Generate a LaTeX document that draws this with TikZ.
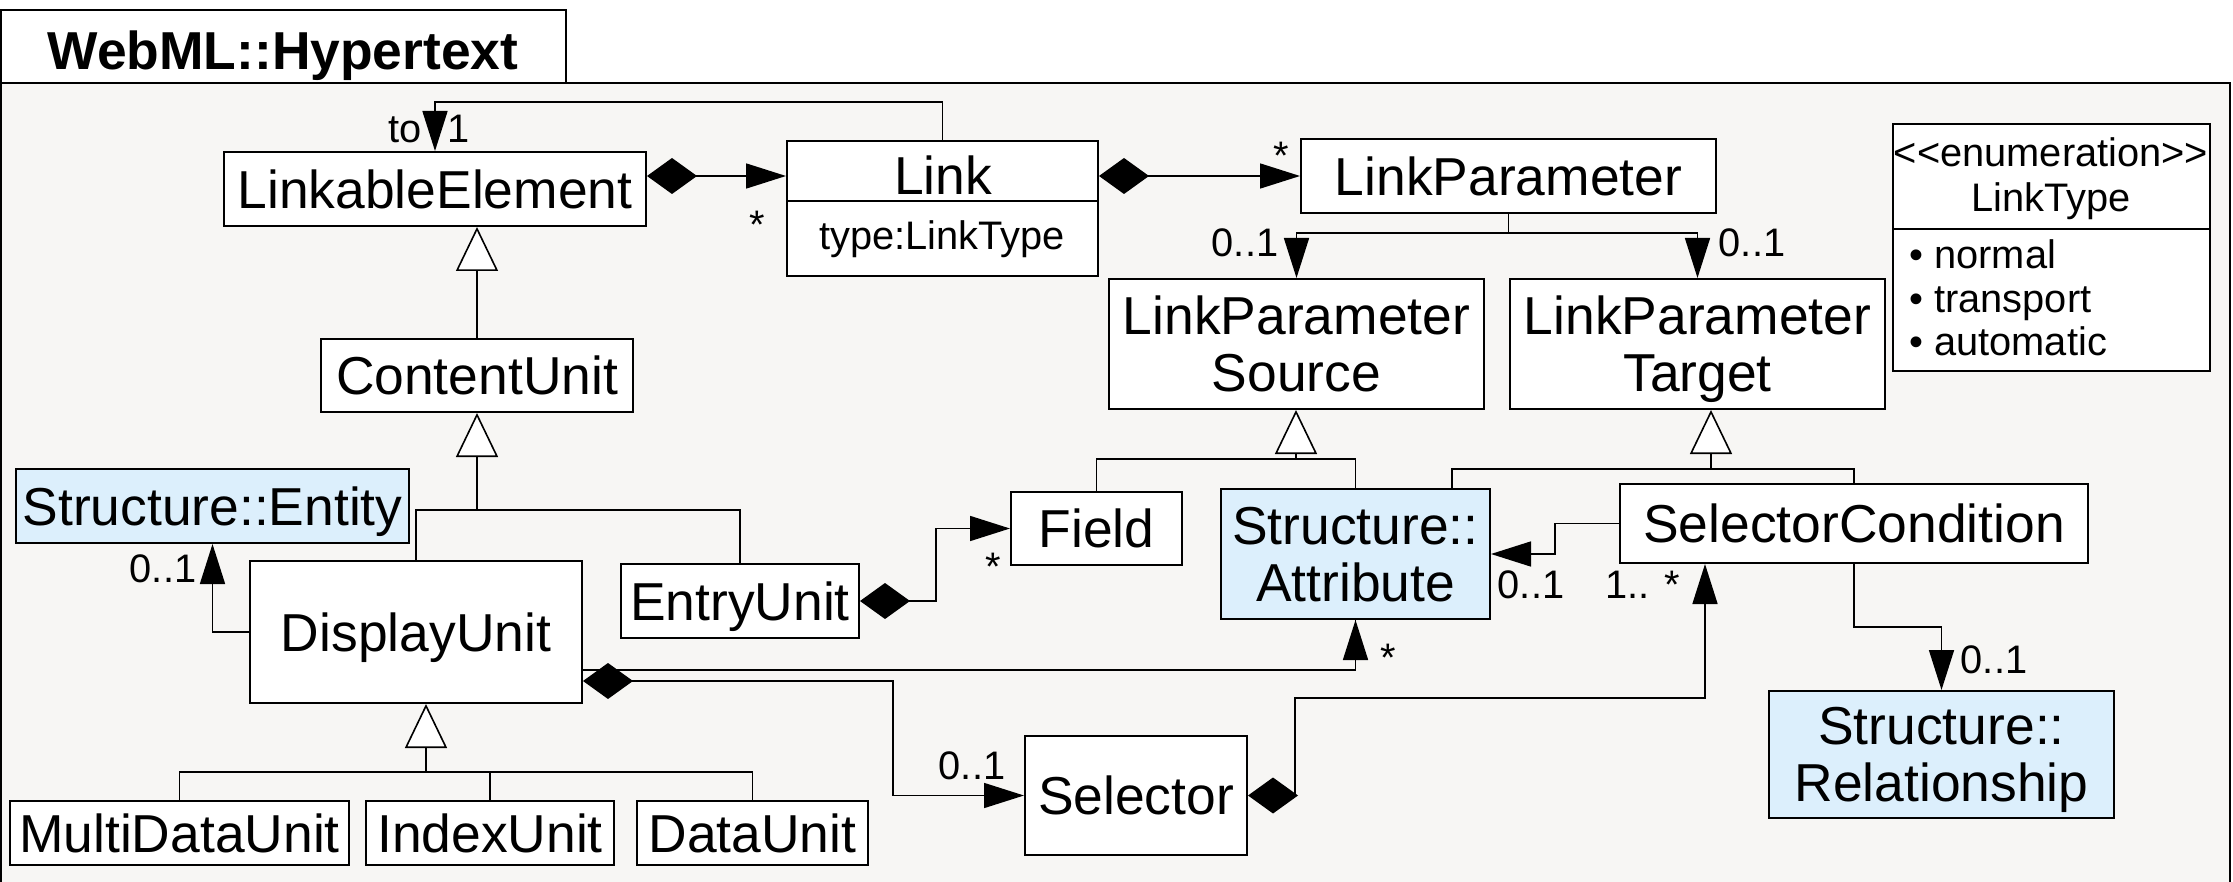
\documentclass[tikz,border=0pt]{standalone}
\usepackage{fontspec}
\setmainfont{Liberation Sans}
\usetikzlibrary{arrows.meta}
\definecolor{framebg}{RGB}{247,246,244}
\definecolor{bluebg}{RGB}{220,239,252}
\newcommand\mainsz{\fontsize{26.7pt}{28.5pt}\selectfont}
\newcommand\smallsz{\fontsize{19.9pt}{21.6pt}\selectfont}
\tikzset{
  box/.style={draw=black, line width=1pt, inner sep=0pt, font=\mainsz, align=center, text depth=0pt},
  conn/.style={line width=0.8pt},
  assoc/.style={conn, -{Triangle[length=20pt,width=12.5pt]}},
  comp/.style={conn, {Diamond[length=25pt,width=18pt]}-{Triangle[length=20pt,width=12.5pt]}},
  gen/.style={conn, -{Triangle[open,fill=white,length=22pt,width=21pt]}},
  mult/.style={font=\smallsz, inner sep=0pt, anchor=base},
  txt/.style={font=\mainsz, inner sep=0pt, anchor=base},
}
% [fill]{name}{x1}{y1}{x2}{y2}{text}
\newcommand\umlbox[7][white]{%
  \node[box, fill=#1, minimum width={(#5-#3)*0.5pt}, minimum height={(#6-#4)*0.5pt}]
    (#2) at ({(#3+#5)/2},{(#4+#6)/2}) {#7};}
\begin{document}
\begin{tikzpicture}[x=0.5pt, y=-0.5pt]
\useasboundingbox (0,0) rectangle (2233,882);
% frame and tab
\draw[line width=1.3pt, fill=framebg] (1,83) rectangle (2230,900);
\draw[line width=1.3pt, fill=white] (1,10) rectangle (566,83);
\node[inner sep=0pt, anchor=base, font=\mainsz\bfseries] (title) at (283,70) {WebML::Hypertext};

% boxes
\umlbox{le}{224}{152}{646}{226}{LinkableElement}
\umlbox{link}{787}{141}{1098}{276}{}
\draw[line width=1pt] (link.west |- 0,201) -- (link.east |- 0,201);
\node[txt] (linkname) at (943,195) {Link};
\node[mult] (linkattr) at (942,250) {type:LinkType};
\umlbox{lp}{1301}{139}{1716}{213}{LinkParameter}
\umlbox{src}{1109}{279}{1484}{409}{LinkParameter\\Source}
\umlbox{tgt}{1510}{279}{1885}{409}{LinkParameter\\Target}
\umlbox{enum}{1893}{124}{2210}{371}{}
\draw[line width=1pt] (enum.west |- 0,229) -- (enum.east |- 0,229);
\node[mult] (enumst) at (2051,167) {{<}{<}enumeration{>}{>}};
\node[mult] (enumname) at (2051,212) {LinkType};
\node[mult, anchor=base west] (lit1) at (1909,269) {• normal};
\node[mult, anchor=base west] (lit2) at (1909,313) {• transport};
\node[mult, anchor=base west] (lit3) at (1909,356) {• automatic};
\umlbox{content}{321}{339}{633}{412}{ContentUnit}
\umlbox[bluebg]{ent}{16}{469}{409}{543}{Structure::Entity}
\umlbox{disp}{250}{561}{582}{703}{DisplayUnit}
\umlbox{entry}{621}{564}{859}{638}{EntryUnit}
\umlbox{field}{1011}{492}{1182}{565}{Field}
\umlbox[bluebg]{attr}{1221}{489}{1490}{619}{Structure::\\Attribute}
\umlbox{sc}{1620}{484}{2088}{563}{SelectorCondition}
\umlbox[bluebg]{rel}{1769}{691}{2114}{818}{Structure::\\Relationship}
\umlbox{multi}{10}{801}{349}{865}{MultiDataUnit}
\umlbox{index}{366}{801}{614}{865}{IndexUnit}
\umlbox{data}{637}{801}{868}{865}{DataUnit}
\umlbox{sel}{1025}{736}{1247}{855}{Selector}

% waypoints
\coordinate (ya) at (0,102);
\coordinate (yb) at (0,176);
\coordinate (yd) at (0,233);
\coordinate (xf) at (936,0);
\coordinate (yg) at (0,670);
\coordinate (yh) at (0,681);
\coordinate (xh) at (893,0);
\coordinate (xi) at (1295,0);
\coordinate (yi) at (0,698);
\coordinate (xi2) at (1705,0);
\coordinate (xj) at (1555,0);
\coordinate (yk) at (0,627);
\coordinate (g2) at (477,510);
\coordinate (g3) at (426,772);
\coordinate (g4) at (1296,459);
\coordinate (g5) at (1711,469);
\coordinate (xg5) at (1452,0);

% associations
\draw[assoc] (link.north) -- (link.north |- ya) -- (le.north |- ya) -- (le.north);
\node[mult] (mto) at (405,143) {to};
\node[mult] (mone) at (459,143) {1};
\draw[comp] (le.east |- yb) -- (link.west |- yb);
\node[mult] (mstar1) at (757,239) {*};
\draw[comp] (link.east |- yb) -- (lp.west |- yb);
\node[mult] (mstar2) at (1281,170) {*};
\draw[assoc] (lp.south) -- (lp.south |- yd) -| (src.north);
\draw[assoc] (lp.south |- yd) -| (tgt.north);
\node[mult] (msrc) at (1245,257) {0..1};
\node[mult] (mtgt) at (1752,257) {0..1};
\draw[assoc] (disp.west) -| (ent.south);
\node[mult] (ment) at (163,582) {0..1};
\draw[comp] (entry.east) -- (xf |- entry.east) |- (field.west);
\node[mult] (mfield) at (993,580) {*};
\draw[conn] (disp.east |- yg) -| (attr.south) ;
\draw[assoc] (attr.south |- yg) -- (attr.south);
\node[mult] (mattr) at (1388,671) {*};
\draw[comp] (disp.east |- yh) -- (xh |- yh) |- (sel.west);
\node[mult] (msel) at (972,779) {0..1};
\draw[comp] (sel.east) -- (xi |- sel.east) -- (xi |- yi) -- (xi2 |- yi) -- (xi2 |- sc.south);
\node[mult] (msc) at (1643,598) {1.. *};
\draw[assoc] (sc.west) -- (xj |- sc.west) |- (attr.east);
\node[mult] (mattr2) at (1531,598) {0..1};
\draw[assoc] (sc.south) -- (sc.south |- yk) -| (rel.north);
\node[mult] (mrel) at (1994,673) {0..1};

% generalizations
\draw[gen] (content.north) -- (content.north |- le.south);
\draw[conn] (disp.north) |- (g2) -| (entry.north);
\draw[gen] (g2) -- (g2 |- content.south);
\draw[conn] (multi.north) |- (g3) -| (data.north);
\draw[conn] (index.north) -- (index.north |- g3);
\draw[gen] (g3) -- (g3 |- disp.south);
\draw[conn] (field.north) |- (g4) -| (attr.north);
\draw[gen] (g4) -- (g4 |- src.south);
\draw[conn] (xg5 |- attr.north) |- (g5) -| (sc.north);
\draw[gen] (g5) -- (g5 |- tgt.south);
\end{tikzpicture}
\end{document}
